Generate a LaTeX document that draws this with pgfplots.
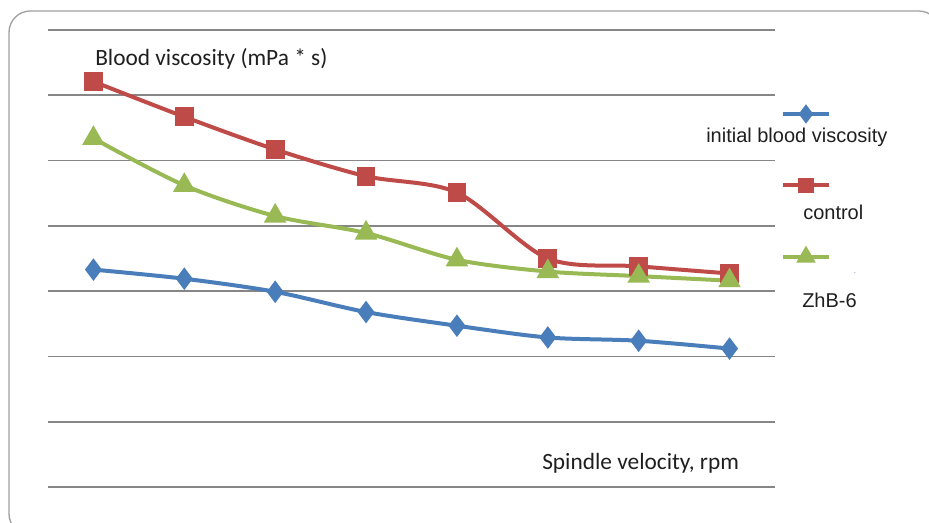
\documentclass[border=0pt]{standalone}
\usepackage{pgfplots}
\pgfplotsset{compat=1.18}
\usepackage{fontspec}
\setmainfont{Carlito}
\newfontfamily\arial{Liberation Sans}
\definecolor{sblue}{RGB}{74,126,187}
\definecolor{sred}{RGB}{190,75,72}
\definecolor{sgreen}{RGB}{152,185,84}
\definecolor{gridc}{RGB}{134,134,134}
\definecolor{framec}{RGB}{160,160,160}
\begin{document}
\begin{tikzpicture}
\path[use as bounding box] (0,0) rectangle (696.75pt,392.25pt);
\draw[framec, line width=1pt, rounded corners=16pt] (6.75pt,-9pt) rectangle (705pt,384pt);
\begin{axis}[
 at={(36pt,27pt)}, anchor=south west,
 scale only axis, width=545.25pt, height=342.75pt,
 xmin=-0.5, xmax=7.5, ymin=0, ymax=7,
 ytick={0,...,7}, xtick=\empty, yticklabels={},
 ymajorgrids, grid style={gridc, line width=1.2pt},
 axis line style={draw=none}, major tick length=0pt,
 clip=false,
 legend style={at={(1.00825,0.8944)}, anchor=north west, draw=none, fill=none,
   inner sep=0pt, outer sep=0pt, row sep=0pt, nodes={inner sep=0pt}},
 legend image code/.code={
   \path[draw=none, fill=none] (0pt,-26.8pt) rectangle (34.5pt,26.8pt);
   \draw[mark repeat=2,mark phase=2, mark options={solid, scale=0.8}] plot coordinates {(0pt,0pt) (17.25pt,0pt) (34.5pt,0pt)};
 },
]
\addplot[sblue, line width=3pt, smooth, tension=0.5, mark=diamond*, mark size=6pt, mark options={solid}]
 coordinates {(0,3.33) (1,3.19) (2,2.99) (3,2.68) (4,2.47) (5,2.29) (6,2.24) (7,2.12)};
\addlegendentry{}
\addplot[sred, line width=3pt, smooth, tension=0.5, mark=square*, mark size=5.5pt, mark options={solid}]
 coordinates {(0,6.21) (1,5.67) (2,5.17) (3,4.76) (4,4.51) (5,3.50) (6,3.38) (7,3.27)};
\addlegendentry{}
\addplot[sgreen, line width=3pt, smooth, tension=0.5, mark=triangle*, mark size=6.8pt, mark options={solid}]
 coordinates {(0,5.34) (1,4.62) (2,4.15) (3,3.89) (4,3.48) (5,3.30) (6,3.23) (7,3.16)};
\addlegendentry{}
\end{axis}
\node[anchor=west, font=\fontsize{17.5}{20}\selectfont, inner sep=0pt, text=black!88] at (71.25pt,348pt) {Blood viscosity (mPa * s)};
\node[anchor=west, font=\fontsize{17.5}{20}\selectfont, inner sep=0pt, text=black!88] at (406.5pt,45pt) {Spindle velocity, rpm};
\node[anchor=west, font=\arial\fontsize{15}{18}\selectfont, inner sep=0pt, text=black!88] at (529.5pt,289.5pt) {initial blood viscosity};
\node[anchor=west, font=\arial\fontsize{15}{18}\selectfont, inner sep=0pt, text=black!88] at (602.25pt,232.7pt) {control};
\node[anchor=west, font=\arial\fontsize{15}{18}\selectfont, inner sep=0pt, text=black!88] at (601.5pt,167.25pt) {ZhB-6};
\node[font=\arial\fontsize{6}{7}\selectfont, inner sep=0pt, text=sblue] at (641.25pt,187.5pt) {.};
\end{tikzpicture}
\end{document}
